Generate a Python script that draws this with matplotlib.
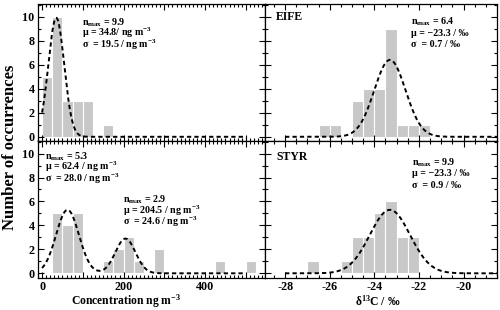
import numpy as np
import matplotlib
matplotlib.use("Agg")
import matplotlib.pyplot as plt
from matplotlib.ticker import FixedLocator, MultipleLocator, FuncFormatter

plt.rcParams['font.family'] = ['Liberation Serif', 'DejaVu Serif']
plt.rcParams['font.weight'] = 'bold'
plt.rcParams['mathtext.fontset'] = 'custom'
plt.rcParams['mathtext.rm'] = 'Liberation Serif:bold'
plt.rcParams['mathtext.it'] = 'Liberation Serif:bold'
plt.rcParams['mathtext.bf'] = 'Liberation Serif:bold'

# ---------------- data ----------------
conc_bin_width = 25
# top-left (concentration, first site)
conc1_bin_left = [0, 25, 50, 75, 100, 150]
conc1_counts = [5, 10, 3, 3, 3, 1]
conc1_fit = [(9.9, 34.8, 19.5)]
# bottom-left (concentration, second site)
conc2_bin_left = [25, 50, 75, 150, 175, 200, 225, 275, 425, 500]
conc2_counts = [5, 4, 5, 1, 2, 3, 1, 2, 1, 1]
conc2_fit = [(5.3, 62.4, 28.0), (2.9, 204.5, 24.6)]
conc_curve_range = (0, 500)

d13c_bin_width = 0.5
# EIFE
eife_bin_left = [-26.5, -26.0, -25.0, -24.5, -24.0, -23.5, -23.0, -22.5, -22.0]
eife_counts = [1, 1, 3, 4, 4, 9, 1, 1, 1]
eife_fit = (6.4, -23.3, 0.7)
# STYR
styr_bin_left = [-27.0, -25.5, -25.0, -24.5, -24.0, -23.5, -23.0, -22.5]
styr_counts = [1, 1, 3, 3, 5, 6, 3, 3]
styr_fit_drawn = (5.3, -23.3, 0.9)
d13c_curve_range = (-28.0, -18.5)

# annotation texts
txt_tl = ["n$_{max}$ = 9.9", "\u03bc = 34.8/ ng m$^{-3}$", "\u03c3  = 19.5 / ng m$^{-3}$"]
txt_bl1 = ["n$_{max}$ = 5.3", "\u03bc = 62.4 / ng m$^{-3}$", "\u03c3  = 28.0 / ng m$^{-3}$"]
txt_bl2 = ["n$_{max}$ = 2.9", "\u03bc = 204.5 / ng m$^{-3}$", "\u03c3  = 24.6 / ng m$^{-3}$"]
txt_eife = ["n$_{max}$ = 6.4", "\u03bc = \u221223.3 / \u2030", "\u03c3  = 0.7 / \u2030"]
txt_styr = ["n$_{max}$ = 9.9", "\u03bc = \u221223.3 / \u2030", "\u03c3  = 0.9 / \u2030"]

conc_major = [0, 100, 200, 300, 400, 500]
conc_labels = {0: "0", 200: "200", 400: "400"}
d13c_major = [-28, -26, -24, -22, -20]

# ---------------- figure ----------------
W, H = 500, 310
fig = plt.figure(figsize=(W / 100, H / 100), dpi=100)

def ax_at(x0, y0, x1, y1):
    return fig.add_axes([x0 / W, 1 - y1 / H, (x1 - x0) / W, (y1 - y0) / H])

ax_tl = ax_at(38, 4, 265, 141)
ax_tr = ax_at(265, 4, 497, 141)
ax_bl = ax_at(38, 141, 265, 277.5)
ax_br = ax_at(265, 141, 497, 277.5)

bar_color = '#c8c8c8'
dash = (0, (2.2, 1.6))

def gauss(x, fits):
    y = np.zeros_like(x)
    for a, m, s in fits:
        y += a * np.exp(-(x - m) ** 2 / (2 * s ** 2))
    return y

def style(ax, xlim, left_labels, bottom_labels, kind):
    ax.set_ylim(-0.35, 11.05)
    ax.set_xlim(*xlim)
    ax.yaxis.set_major_locator(MultipleLocator(2))
    ax.yaxis.set_minor_locator(MultipleLocator(1))
    if kind == 'conc':
        ax.xaxis.set_major_locator(FixedLocator(conc_major))
        ax.xaxis.set_minor_locator(MultipleLocator(10))
        ax.xaxis.set_major_formatter(FuncFormatter(lambda v, p: conc_labels.get(int(round(v)), "")))
    else:
        ax.xaxis.set_major_locator(FixedLocator(d13c_major))
        ax.xaxis.set_minor_locator(MultipleLocator(0.5))
        ax.xaxis.set_major_formatter(FuncFormatter(lambda v, p: f"{int(round(v))}"))
    ax.tick_params(which='both', direction='in', top=True, right=True,
                   labelsize=8.7, width=0.8, pad=2.5)
    ax.tick_params(which='major', length=4.5)
    ax.tick_params(which='minor', length=2.3)
    ax.tick_params(axis='y', labelleft=left_labels)
    ax.tick_params(axis='x', labelbottom=bottom_labels)
    for sp in ax.spines.values():
        sp.set_linewidth(0.9)
    for lab in ax.get_xticklabels() + ax.get_yticklabels():
        lab.set_fontweight('bold')

def annotate(x, y0, lines, size=7.2, step=11.0):
    # x, y0 in picture pixels (baseline of first line)
    for i, t in enumerate(lines):
        fig.text(x / W, 1 - (y0 + i * step) / H, t, fontsize=size, fontweight='bold',
                 va='baseline', ha='left')

# top-left
ax = ax_tl
ax.bar(conc1_bin_left, conc1_counts, width=conc_bin_width, align='edge',
       color=bar_color, edgecolor='white', linewidth=0.8, zorder=1)
xc = np.linspace(*conc_curve_range, 600)
ax.plot(xc, gauss(xc, conc1_fit), color='black', lw=1.4, ls=dash, zorder=3)
style(ax, (-10, 547), True, False, 'conc')
annotate(82.5, 25.5, txt_tl)

# bottom-left
ax = ax_bl
ax.bar(conc2_bin_left, conc2_counts, width=conc_bin_width, align='edge',
       color=bar_color, edgecolor='white', linewidth=0.8, zorder=1)
ax.plot(xc, gauss(xc, conc2_fit), color='black', lw=1.4, ls=dash, zorder=3)
style(ax, (-10, 547), True, True, 'conc')
annotate(45, 159.5, txt_bl1)
annotate(123, 203, txt_bl2)

# top-right EIFE
ax = ax_tr
ax.bar(eife_bin_left, eife_counts, width=d13c_bin_width, align='edge',
       color=bar_color, edgecolor='white', linewidth=0.8, zorder=1)
xd = np.linspace(*d13c_curve_range, 600)
ax.plot(xd, gauss(xd, [eife_fit]), color='black', lw=1.4, ls=dash, zorder=3)
style(ax, (-28.9, -18.5), False, False, 'd13c')
fig.text(276 / W, 1 - 20.5 / H, "EIFE", fontsize=8.5, fontweight='bold',
         va='baseline', ha='left')
annotate(411, 25, txt_eife)

# bottom-right STYR
ax = ax_br
ax.bar(styr_bin_left, styr_counts, width=d13c_bin_width, align='edge',
       color=bar_color, edgecolor='white', linewidth=0.8, zorder=1)
ax.plot(xd, gauss(xd, [styr_fit_drawn]), color='black', lw=1.4, ls=dash, zorder=3)
style(ax, (-28.9, -18.5), False, True, 'd13c')
fig.text(276 / W, 1 - 160.5 / H, "STYR", fontsize=8.5, fontweight='bold',
         va='baseline', ha='left')
annotate(411.5, 165.5, txt_styr)

# axis labels
fig.text(126 / W, 1 - 301 / H, "Concentration ng m$^{-3}$", fontsize=8.4,
         fontweight='bold', ha='center', va='center')
fig.text(378 / W, 1 - 301 / H, "\u03b4$^{13}$C / \u2030", fontsize=8.4,
         fontweight='bold', ha='center', va='center')
fig.text(10 / W, 1 - 147 / H, "Number of occurrences", fontsize=12, fontweight='bold',
         rotation=90, ha='center', va='center')

fig.savefig("out.png", dpi=100)
